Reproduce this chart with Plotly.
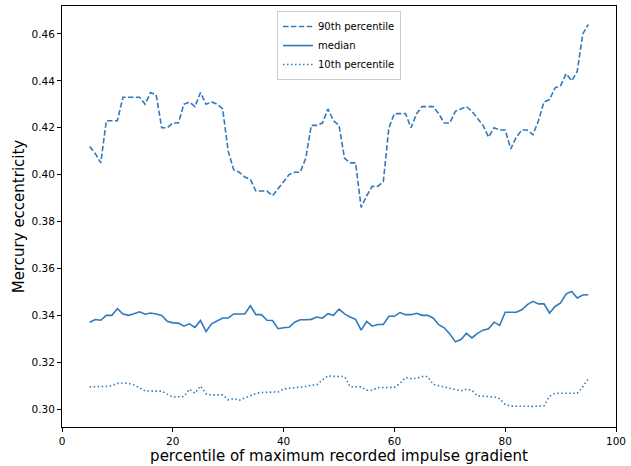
import plotly.graph_objects as go

# percentile of the maximum recorded impulse gradient (5..95)
pct = list(range(5, 96))

ecc_p90 = [
    0.412, 0.409, 0.405, 0.423, 0.423, 0.423, 0.433, 0.433, 0.433, 0.433,
    0.430, 0.435, 0.434, 0.420, 0.420, 0.422, 0.422, 0.430, 0.431, 0.429,
    0.435, 0.430, 0.431, 0.430, 0.428, 0.410, 0.402, 0.401, 0.399, 0.398,
    0.393, 0.393, 0.393, 0.391, 0.394, 0.397, 0.400, 0.401, 0.401, 0.407,
    0.421, 0.421, 0.422, 0.428, 0.423, 0.421, 0.407, 0.405, 0.405, 0.386,
    0.391, 0.395, 0.395, 0.397, 0.420, 0.426, 0.426, 0.426, 0.420, 0.426,
    0.429, 0.429, 0.429, 0.426, 0.422, 0.422, 0.427, 0.428, 0.429, 0.427,
    0.424, 0.421, 0.416, 0.420, 0.419, 0.419, 0.411, 0.416, 0.419, 0.419,
    0.417, 0.423, 0.431, 0.432, 0.437, 0.438, 0.443, 0.440, 0.444, 0.460,
    0.464,
]

ecc_median = [
    0.3371, 0.3382, 0.3379, 0.3400, 0.3400, 0.3429, 0.3406, 0.3400, 0.3407, 0.3415,
    0.3405, 0.3410, 0.3406, 0.3400, 0.3375, 0.3368, 0.3367, 0.3354, 0.3364, 0.3349,
    0.3378, 0.3331, 0.3364, 0.3375, 0.3389, 0.3389, 0.3406, 0.3406, 0.3406, 0.3441,
    0.3403, 0.3403, 0.3379, 0.3378, 0.3343, 0.3347, 0.3349, 0.3371, 0.3381, 0.3381,
    0.3383, 0.3393, 0.3388, 0.3407, 0.3400, 0.3427, 0.3406, 0.3393, 0.3383, 0.3337,
    0.3374, 0.3354, 0.3361, 0.3361, 0.3396, 0.3396, 0.3412, 0.3403, 0.3403, 0.3409,
    0.3400, 0.3400, 0.3389, 0.3360, 0.3347, 0.3321, 0.3287, 0.3297, 0.3323, 0.3304,
    0.3323, 0.3337, 0.3343, 0.3371, 0.3357, 0.3413, 0.3413, 0.3413, 0.3424, 0.3446,
    0.3460, 0.3449, 0.3449, 0.3410, 0.3438, 0.3453, 0.3492, 0.3502, 0.3474, 0.3487,
    0.3488,
]

ecc_p10 = [
    0.3095, 0.3095, 0.3095, 0.3097, 0.3100, 0.3110, 0.3112, 0.3110, 0.3103, 0.3090,
    0.3078, 0.3077, 0.3078, 0.3077, 0.3064, 0.3052, 0.3053, 0.3054, 0.3085, 0.3068,
    0.3099, 0.3066, 0.3061, 0.3061, 0.3061, 0.3040, 0.3045, 0.3038, 0.3048, 0.3060,
    0.3067, 0.3071, 0.3073, 0.3073, 0.3073, 0.3086, 0.3089, 0.3091, 0.3093, 0.3097,
    0.3102, 0.3104, 0.3125, 0.3142, 0.3140, 0.3139, 0.3139, 0.3096, 0.3095, 0.3095,
    0.3081, 0.3081, 0.3092, 0.3092, 0.3092, 0.3093, 0.3110, 0.3135, 0.3130, 0.3132,
    0.3139, 0.3139, 0.3106, 0.3100, 0.3096, 0.3088, 0.3083, 0.3078, 0.3085, 0.3080,
    0.3057, 0.3056, 0.3054, 0.3052, 0.3045, 0.3020, 0.3013, 0.3012, 0.3011, 0.3012,
    0.3012, 0.3013, 0.3014, 0.3055, 0.3068, 0.3068, 0.3068, 0.3068, 0.3068, 0.3095,
    0.3130,
]

x_ticks = [0, 20, 40, 60, 80, 100]
y_ticks = [0.30, 0.32, 0.34, 0.36, 0.38, 0.40, 0.42, 0.44, 0.46]

LINE = "#3179ba"
FONT = "DejaVu Sans"

fig = go.Figure()
fig.add_trace(go.Scatter(x=pct, y=ecc_p90, mode="lines", name="90th percentile",
                         line=dict(color=LINE, width=1.6, dash="5.5px,2.4px")))
fig.add_trace(go.Scatter(x=pct, y=ecc_median, mode="lines", name="median",
                         line=dict(color=LINE, width=1.6)))
fig.add_trace(go.Scatter(x=pct, y=ecc_p10, mode="lines", name="10th percentile",
                         line=dict(color=LINE, width=1.6, dash="1.5px,2.5px")))

axis_common = dict(
    showgrid=False, zeroline=False, showline=True, linecolor="black", linewidth=1,
    mirror=True, ticks="outside", ticklen=4, tickwidth=1, tickcolor="black",
    tickfont=dict(family=FONT, size=10.5, color="black"),
)

fig.update_xaxes(range=[0, 100], tickvals=x_ticks,
                 title=dict(text="percentile of maximum recorded impulse gradient",
                            font=dict(family=FONT, size=15, color="black"), standoff=4),
                 **axis_common)
fig.update_yaxes(range=[0.2924, 0.4719], tickvals=y_ticks, tickformat=".2f",
                 title=dict(text="Mercury eccentricity",
                            font=dict(family=FONT, size=15, color="black"), standoff=3),
                 **axis_common)

fig.update_layout(
    width=631, height=466,
    margin=dict(l=62, r=11, t=5, b=38),
    paper_bgcolor="white", plot_bgcolor="white",
    font=dict(family=FONT, size=10.5, color="black"),
    legend=dict(x=0.5, xanchor="center", y=0.988, yanchor="top",
                bgcolor="rgba(255,255,255,0.8)", bordercolor="#cccccc", borderwidth=1,
                font=dict(family=FONT, size=10, color="black"),
                itemwidth=30, tracegroupgap=0),
    showlegend=True,
)

fig.write_html("out.html")
